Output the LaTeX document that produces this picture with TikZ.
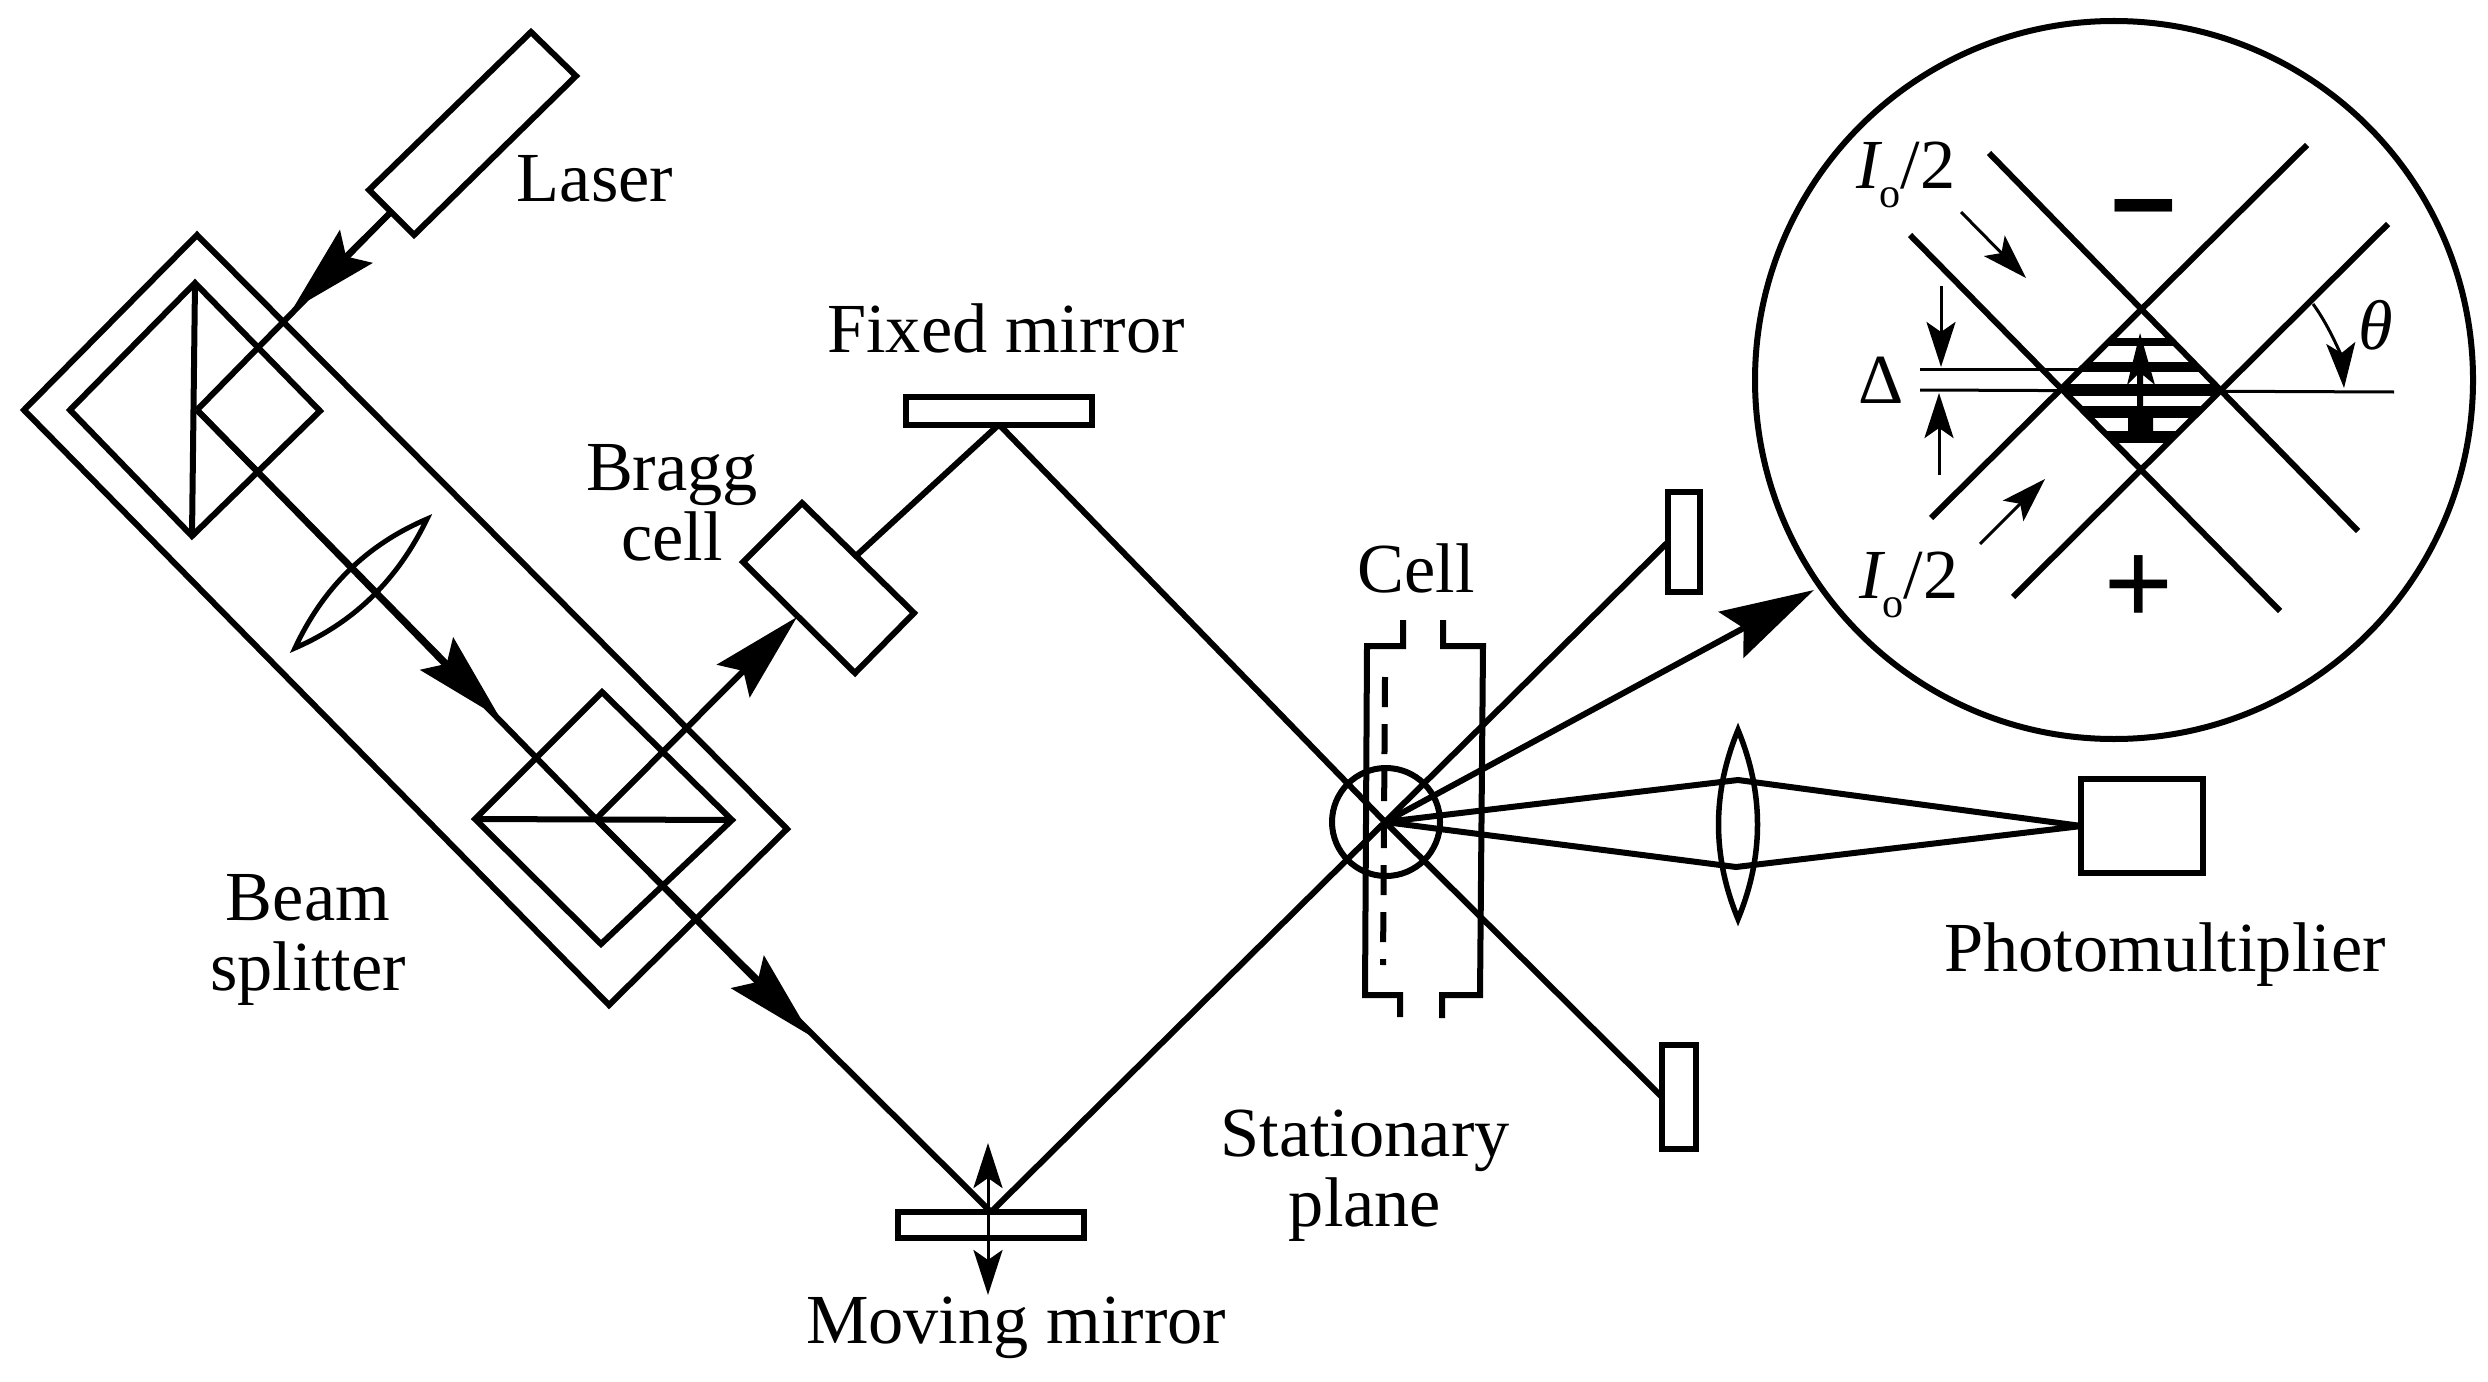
\documentclass[tikz,border=0pt]{standalone}
\usepackage{fontspec}
\setmainfont{Liberation Serif}
\usetikzlibrary{arrows.meta}
\tikzset{
	ray/.style={line width=0.06cm},
	thinray/.style={line width=0.03cm},
	bighead/.style={-{Stealth[length=0.90cm,width=0.46cm,inset=0.14cm]}},
	smallhead/.style={-{Stealth[length=0.45cm,width=0.29cm,inset=0.10cm]}},
	optic/.style={draw,line width=0.06cm,inner sep=0pt,outer sep=0pt},
	label/.style={font=\fontsize{20}{20}\selectfont,inner sep=0pt,align=center},
	signlabel/.style={font=\fontsize{32}{32}\selectfont\bfseries,inner sep=0pt},
}
\newcommand{\halfint}{\itshape I\raisebox{-0.6ex}{\fontsize{12}{12}\selectfont\upshape o}\upshape/2}
\begin{document}
\begin{tikzpicture}[x=0.01cm,y=-0.01cm]
	\useasboundingbox (0,0) rectangle (2488,1382);
	\coordinate (lasermid) at (390,213);
	\coordinate (tipa) at (292,310);
	\coordinate (splitin) at (197,410);
	\coordinate (tipb) at (500,718);
	\coordinate (splitout) at (596,819);
	\coordinate (tipc) at (797,617);
	\coordinate (braggout) at (857,555);
	\coordinate (tipd) at (811,1036);
	\coordinate (focus) at (1385,822);
	\coordinate (lenstop) at (1738,780);
	\coordinate (lensbot) at (1736,867);
	\coordinate (tipe) at (1814,590);
	\node[optic,minimum width=1.86cm,minimum height=0.27cm] (fixedmirror) at (999,411) {};
	\node[optic,minimum width=1.86cm,minimum height=0.26cm] (movemirror) at (991,1225) {};
	\node[optic,minimum width=0.32cm,minimum height=1.00cm] (uppermirror) at (1684,542) {};
	\node[optic,minimum width=0.34cm,minimum height=1.03cm] (lowermirror) at (1679,1097) {};
	\node[optic,minimum width=1.21cm,minimum height=0.93cm] (pmt) at (2142,826) {};
	\draw[ray] (531,32) -- (576,76) -- (414,235) -- (369,190) -- cycle;
	\draw[ray] (197,235) -- (24,410) -- (609,1005) -- (787,829) -- cycle;
	\draw[ray] (195,283) -- (70,410) -- (192,536) -- (320,411) -- cycle;
	\draw[ray] (195,283) -- (192,536);
	\draw[ray] (602,692) -- (475,819) -- (601,944) -- (732,820) -- cycle;
	\draw[ray] (475,819) -- (732,820);
	\draw[ray] (802,503) -- (743,562) -- (855,673) -- (914,613) -- cycle;
	\draw[line width=0.05cm] (427,519) .. controls (366,545) and (323,588) .. (295,648) .. controls (355,622) and (398,579) .. cycle;
	\draw[line width=0.055cm] (1738,730) .. controls (1712,793) and (1712,856) .. (1738,919) .. controls (1764,856) and (1764,793) .. cycle;
	\draw[ray] (lasermid) -- (splitin);
	\draw[ray,bighead] (lasermid) -- (tipa);
	\draw[ray] (splitin) -- (splitout);
	\draw[ray,bighead] (splitin) -- (tipb);
	\draw[ray,bighead] (splitout) -- (tipc);
	\draw[ray] (braggout) -- (fixedmirror.south);
	\draw[ray] (splitout) -- (movemirror.north);
	\draw[ray,bighead] (splitout) -- (tipd);
	\draw[ray] (fixedmirror.south) -- (focus);
	\draw[ray] (movemirror.north) -- (focus);
	\draw[thinray,{Stealth[length=0.45cm,width=0.29cm,inset=0.10cm]}-{Stealth[length=0.45cm,width=0.29cm,inset=0.10cm]}] (988,1143) -- (988,1295);
	\draw[ray] (1403,620) -- (1403,646) -- (1367,646) -- (1365,995) -- (1400,995) -- (1400,1017);
	\draw[ray] (1443,620) -- (1443,646) -- (1483,646) -- (1480,995) -- (1442,995) -- (1442,1018);
	\draw[ray,dash pattern=on 0.30cm off 0.17cm] (1385,677) -- (1383,965);
	\draw[ray] (1386,822) circle[radius=54];
	\draw[ray] (focus) -- (uppermirror.west);
	\draw[ray] (focus) -- (lowermirror.west);
	\draw[ray,-{Stealth[length=0.94cm,width=0.52cm,inset=0.14cm]}] (focus) -- (tipe);
	\draw[ray] (focus) -- (lenstop) -- (pmt.west);
	\draw[ray] (focus) -- (lensbot) -- (pmt.west);
	\draw[ray] (2114,380) circle[radius=359];
	\draw[ray] (1989,153) -- (2358,531);
	\draw[ray] (1910,235) -- (2280,611);
	\draw[ray] (2307,145) -- (1931,518);
	\draw[ray] (2388,224) -- (2013,597);
	\begin{scope}
		\clip (2141,309) -- (2220,390) -- (2140,469) -- (2062,390) -- cycle;
		\foreach \fringe/\fringew in {342/0.08,367/0.10,390/0.11,412/0.11,437/0.12}
			\draw[line width=\fringew cm] (2050,\fringe) -- (2230,\fringe);
	\end{scope}
	\fill (2140,333) -- (2155,385) -- (2143,375) -- (2143,418) -- (2153,418) -- (2153,442) -- (2128,442) -- (2128,418) -- (2137,418) -- (2137,375) -- (2127,385) -- cycle;
	\draw[thinray] (1920,369) -- (2083,369);
	\draw[thinray] (1920,390) -- (2394,392);
	\draw[thinray,smallhead] (1941,286) -- (1941,367);
	\draw[thinray,smallhead] (1939,475) -- (1939,393);
	\draw[thinray,smallhead] (1961,212) -- (2026,278);
	\draw[thinray,smallhead] (1980,544) -- (2045,479);
	\draw[thinray,smallhead] (2313,304) .. controls (2332,330) and (2342,360) .. (2344,388);
	\node[label] (laserlabel) at (595,179) {Laser};
	\node[label] (fixedlabel) at (1006,328) {Fixed mirror};
	\node[label] (bragglabel) at (672,503) {Bragg\\cell};
	\node[label] (celllabel) at (1416,568) {Cell};
	\node[label] (splitlabel) at (308,940) {Beam\\splitter};
	\node[label] (planelabel) at (1365,1176) {Stationary\\plane};
	\node[label] (movelabel) at (1016,1328) {Moving mirror};
	\node[label] (pmtlabel) at (2165,955) {Photomultiplier};
	\node[label] (intopa) at (1906,175) {\halfint};
	\node[label] (intbot) at (1909,585) {\halfint};
	\node[label] (deltalabel) at (1881,380) {Δ};
	\node[label] (thetalabel) at (2376,325) {\itshape θ};
	\node[signlabel] (minuslabel) at (2144,232) {\scalebox{1.1}[1.6]{−}};
	\node[signlabel] (pluslabel) at (2139,591) {\scalebox{1.1}{+}};
\end{tikzpicture}
\end{document}
